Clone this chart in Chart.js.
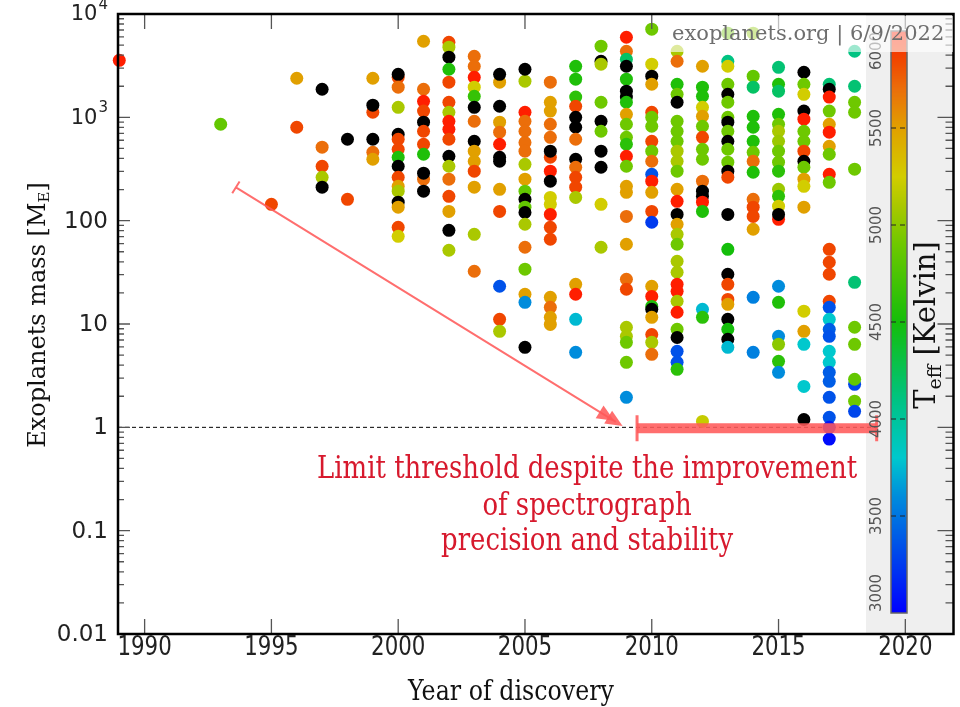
<!DOCTYPE html>
<html>
<head>
<meta charset="utf-8">
<title>Exoplanet masses by year of discovery</title>
<script src="https://cdn.jsdelivr.net/npm/chart.js@4.4.1/dist/chart.umd.min.js"></script>
<style>
  body { margin: 0; background: #fff; }
  canvas { display: block; }
</style>
</head>
<body>
<canvas id="exo-chart" width="960" height="707"></canvas>
<script>
// --- Data: one column of planets per discovery year ---
const discoveryYears = [1989, 1993, 1995, 1996, 1997, 1998, 1999, 2000, 2001, 2002, 2003, 2004, 2005,
  2006, 2007, 2008, 2009, 2010, 2011, 2012, 2013, 2014, 2015, 2016, 2017, 2018];

// planet mass in Earth masses
const massesByYear = [
  [3560],
  [857],
  [144],
  [2390, 802],
  [1870, 514, 336, 263, 211],
  [614, 161],
  [2390, 1120, 1310, 614, 459, 393],
  [2440, 2610, 1960, 1250, 686, 614, 491, 411, 336, 263, 215, 193, 151, 135, 86.3, 70.6],
  [5450, 1870, 1430, 1150, 897, 733, 549, 439, 252, 288, 193],
  [5330, 4770, 3820, 2920, 2190, 1400, 1120, 917, 767, 614, 420, 336, 252, 172, 123, 80.7, 51.7],
  [3900, 3120, 2440, 1960, 1600, 1250, 917, 587, 470, 376, 301, 211, 73.8, 32.4],
  [2190, 2610, 1280, 897, 718, 549, 411, 376, 201, 123, 23.2, 11.1, 8.5],
  [2240, 2920, 1120, 917, 733, 570, 470, 351, 252, 193, 161, 135, 120, 92.3, 55.3, 33.9, 19.4, 16.2, 5.95],
  [2190, 1400, 1150, 857, 641, 411, 470, 301, 241, 168, 144, 115, 86.3, 66.1, 18.1, 14.5, 11.6, 9.9],
  [3120, 2340, 1570, 1280, 1000, 802, 614, 393, 329, 263, 211, 168, 24.2, 19.4, 11.1, 5.32],
  [4880, 3490, 3270, 1400, 917, 733, 470, 329, 144, 55.3],
  [5960, 4360, 3650, 3120, 2340, 1790, 1570, 1400, 1070, 857, 641, 549, 420, 336, 215, 188, 110, 59.1, 27.1, 21.7, 9.3, 7.6, 6.65, 4.26, 1.95],
  [7130, 3270, 2500, 2090, 1120, 1000, 820, 587, 470, 376, 281, 241, 188, 123, 96.5, 23.2, 18.5, 14.8, 13.9, 11.6, 7.9, 6.65, 5.09],
  [4360, 3490, 2090, 1670, 1400, 917, 733, 587, 470, 376, 301, 201, 154, 115, 92.3, 73.8, 59.1, 40.5, 31.7, 24.2, 20.7, 16.6, 13.0, 8.9, 7.4, 5.44, 4.26, 3.64],
  [3120, 1960, 1600, 1250, 1025, 820, 641, 491, 393, 241, 193, 172, 151, 123, 13.9, 11.6, 1.14],
  [6520, 3490, 3120, 2090, 1670, 1400, 1000, 897, 733, 587, 491, 368, 301, 263, 115, 52.8, 30.3, 24.2, 17.3, 15.5, 11.1, 8.9, 7.1, 5.95],
  [6520, 2500, 1960, 1025, 802, 587, 459, 376, 294, 161, 135, 110, 82.6, 18.1, 5.32],
  [3050, 2090, 1790, 1070, 857, 733, 587, 470, 368, 301, 201, 172, 138, 103, 115, 23.2, 16.2, 7.6, 6.36, 4.35, 3.41],
  [2730, 2090, 1670, 1150, 960, 733, 587, 470, 376, 329, 252, 215, 135, 13.3, 8.5, 6.36, 2.49, 1.19],
  [2090, 1870, 1570, 1150, 857, 718, 525, 439, 281, 235, 52.8, 39.6, 30.3, 16.6, 14.5, 11.1, 8.9, 7.6, 5.44, 4.26, 3.41, 2.79, 1.95, 1.25, 1.0, 0.77],
  [4360, 2000, 1400, 1120, 315, 25.3, 9.3, 6.36, 2.61, 2.92, 1.79, 1.43]
];

// host star effective temperature in Kelvin (null = unknown, drawn black)
const teffByYear = [
  [6000],
  [4850],
  [5850],
  [5500, 5850],
  [null, 5700, 5850, 5100, null],
  [null, 5850],
  [5500, 5850, null, null, 5700, 5500],
  [5850, null, 5700, 5100, null, 5850, 5850, 4550, null, 5850, 5500, 5100, null, 5500, 5850, 5250],
  [5500, 5700, 6000, 5850, null, 5850, 5850, 4550, 5700, null, null],
  [5850, 5100, null, 4550, 5850, 5850, 5100, 6000, 6000, 5850, null, 5100, 5700, 5850, 5500, null, 5100],
  [5700, 5700, 6000, 5250, 4650, null, 5700, null, 5500, 5500, 5850, 5500, 5100, 5700],
  [5500, null, null, 5500, 5700, 6000, null, null, 5500, 5850, 3350, 5850, 5100],
  [5100, null, 6000, 5700, 5700, 5700, 5700, 5100, 5500, 4850, null, 4850, null, 5100, 5700, 4900, 5500, 3600, null],
  [5700, 5500, 5500, 5700, 5700, 5850, null, 6000, null, 5250, 5250, 6000, 5850, 5850, 5500, 5700, 5500, 5500],
  [4550, 4550, 4600, 5850, null, null, 5700, null, 5700, 5850, 5850, 5100, 5500, 6000, 3750, 3600],
  [4900, null, 5100, 4900, null, 4900, null, null, 5250, 5100],
  [6000, 5700, 4200, null, 4550, null, null, 4550, 5500, 4900, 4900, 4600, 6000, 4900, 5500, 5500, 5700, 5500, 5700, 5850, 5100, 5100, 4900, 4900, 3600],
  [4900, 5250, null, 5500, 5850, 4900, 4900, 5850, 4900, 5700, 3350, 6000, 5500, 5850, 3250, 5500, 6000, 4550, null, 5500, 5850, 5100, 5700],
  [5100, 5700, 4550, 4900, null, 4900, 4900, 4900, 5100, 5100, 4900, 5500, 6000, null, 5500, 5100, 4900, 5100, 5100, 6000, 6000, 5100, 6000, 4900, null, 3350, 3350, 4600],
  [5500, 4550, 4550, 5250, 5500, 4900, 5850, 4900, 4900, 5700, null, null, 6000, 4550, 3750, 4600, 5200],
  [4900, 4100, 5250, 4900, null, 4900, 4900, null, 4900, null, 4900, 4900, null, 5850, null, 4500, null, 5850, 5850, 5500, null, 4500, null, 3750],
  [5000, 4850, 4200, 4550, 4550, 4550, 4900, 5700, 4550, 5700, 5850, 5850, 5500, 3550, 3550],
  [4150, 4550, 4200, 4550, 4900, 5100, 5050, 4900, 4900, 4600, 5050, 4600, 5250, 6000, null, 3600, 4550, 3600, 5000, 4600, 3600],
  [null, 4900, 5250, null, 6000, 4900, 4900, 5850, null, 4900, 5500, 5250, 5500, 5250, 5500, 3800, 3800, null],
  [4150, null, 6000, 4900, 5500, 6000, 5500, 4900, 6000, 4900, 5850, 5850, 5850, 5850, 3350, 3800, 3400, 3350, 3800, 3800, 3400, 3400, 3350, 3350, 3100, 3050],
  [4100, 4150, 4900, 4900, 4900, 4150, 4900, 4900, 3300, 4850, 4900, 3300]
];

// axis ticks
const yearTicks = [1990, 1995, 2000, 2005, 2010, 2015, 2020];
const massDecades = [-2, -1, 0, 1, 2, 3, 4];
const teffTicks = [3000, 3500, 4000, 4500, 5000, 5500, 6000];

// annotation texts
const thresholdMass = 1;
const noteLines = ['Limit threshold despite the improvement', 'of spectrograph', 'precision and stability'];
const creditText = 'exoplanets.org | 6/9/2022';

// --- Colour map for the host star temperature ---
const cmapStops = [
  [3000, [0, 0, 255]],
  [3300, [0, 70, 235]],
  [3600, [0, 140, 220]],
  [3800, [0, 200, 205]],
  [4100, [0, 195, 130]],
  [4500, [20, 190, 10]],
  [4900, [110, 200, 0]],
  [5100, [170, 200, 0]],
  [5250, [210, 205, 0]],
  [5500, [225, 160, 0]],
  [5700, [235, 110, 10]],
  [5850, [240, 70, 0]],
  [6000, [255, 30, 0]]
];

function teffColor(t) {
  if (t === null) return 'rgb(0,0,0)';
  if (t <= cmapStops[0][0]) return 'rgb(' + cmapStops[0][1].join(',') + ')';
  for (let i = 1; i < cmapStops.length; i++) {
    const [t1, c1] = cmapStops[i];
    if (t <= t1) {
      const [t0, c0] = cmapStops[i - 1];
      const f = (t - t0) / (t1 - t0);
      const c = c0.map((v, k) => Math.round(v + (c1[k] - v) * f));
      return 'rgb(' + c.join(',') + ')';
    }
  }
  return 'rgb(' + cmapStops[cmapStops.length - 1][1].join(',') + ')';
}

// flatten the columns into chart points
const points = [];
const pointColors = [];
discoveryYears.forEach((yr, i) => {
  massesByYear[i].forEach((m, j) => {
    points.push({ x: yr, y: m });
    pointColors.push(teffColor(teffByYear[i][j]));
  });
});

// --- Layout of the colour bar panel (pixels) ---
const cbar = { panelLeft: 866, left: 891, width: 16, top: 31, bottom: 613, tMin: 3000, tMax: 6000 };
const serif = 'DejaVu Serif';
const sans = 'DejaVu Sans';

// draws the grey panel, colour bar and the threshold line under the points
const underlayPlugin = {
  id: 'underlay',
  beforeDatasetsDraw(chart) {
    const { ctx, chartArea: a, scales: { x, y } } = chart;
    ctx.save();
    ctx.fillStyle = '#efefef';
    ctx.fillRect(cbar.panelLeft, a.top, a.right - cbar.panelLeft, a.bottom - a.top);

    // colour gradient, one pixel row at a time
    for (let py = cbar.top; py < cbar.bottom; py++) {
      const t = cbar.tMax - (py + 0.5 - cbar.top) / (cbar.bottom - cbar.top) * (cbar.tMax - cbar.tMin);
      ctx.fillStyle = teffColor(t);
      ctx.fillRect(cbar.left, py, cbar.width, 1);
    }
    ctx.strokeStyle = '#666';
    ctx.lineWidth = 1.5;
    ctx.strokeRect(cbar.left, cbar.top, cbar.width, cbar.bottom - cbar.top);

    // dashed ticks across the bar
    ctx.setLineDash([5, 4]);
    ctx.strokeStyle = '#222';
    ctx.lineWidth = 1;
    teffTicks.slice(1, -1).forEach(t => {
      const py = cbar.bottom - (t - cbar.tMin) / (cbar.tMax - cbar.tMin) * (cbar.bottom - cbar.top);
      ctx.beginPath();
      ctx.moveTo(cbar.left, py);
      ctx.lineTo(cbar.left + cbar.width, py);
      ctx.stroke();
    });

    // threshold line at one Earth mass
    const py1 = y.getPixelForValue(thresholdMass);
    ctx.setLineDash([4, 3]);
    ctx.strokeStyle = '#000';
    ctx.lineWidth = 1;
    ctx.beginPath();
    ctx.moveTo(a.left, py1);
    ctx.lineTo(x.getPixelForValue(2018.87), py1);
    ctx.stroke();
    ctx.restore();
  }
};

function drawRotatedParts(ctx, cx, baseY, parts) {
  // parts: [text, fontSize, baselineShift]; centred along the rotated axis
  let total = 0;
  parts.forEach(p => { ctx.font = p[1] + 'px "' + serif + '"'; total += ctx.measureText(p[0]).width; });
  ctx.save();
  ctx.translate(cx, baseY);
  ctx.rotate(-Math.PI / 2);
  let pos = -total / 2;
  parts.forEach(p => {
    ctx.font = p[1] + 'px "' + serif + '"';
    ctx.fillText(p[0], pos, p[2]);
    pos += ctx.measureText(p[0]).width;
  });
  ctx.restore();
}

// narrow text: squeezed horizontally by sx around (cx, cy)
function drawNarrow(ctx, text, cx, cy, sx) {
  ctx.save();
  ctx.translate(cx, cy);
  ctx.scale(sx, 1);
  ctx.fillText(text, 0, 0);
  ctx.restore();
}

// arrow, bar, notes, frame, ticks and titles over the points
const overlayPlugin = {
  id: 'overlay',
  afterDatasetsDraw(chart) {
    const { ctx, chartArea: a, scales: { x, y } } = chart;
    const red = 'rgba(255, 90, 90, 0.88)';
    ctx.save();

    // arrow towards the threshold
    const x0 = x.getPixelForValue(1993.6), y0 = y.getPixelForValue(210);
    const x1 = x.getPixelForValue(2008.85), y1 = y.getPixelForValue(1.03);
    const ang = Math.atan2(y1 - y0, x1 - x0);
    ctx.strokeStyle = red;
    ctx.fillStyle = red;
    ctx.lineWidth = 2;
    ctx.beginPath();
    ctx.moveTo(x0, y0);
    ctx.lineTo(x1 - 8 * Math.cos(ang), y1 - 8 * Math.sin(ang));
    ctx.moveTo(x0 + 7 * Math.sin(ang), y0 - 7 * Math.cos(ang));
    ctx.lineTo(x0 - 7 * Math.sin(ang), y0 + 7 * Math.cos(ang));
    ctx.stroke();
    [0, 10].forEach(back => {
      const tx = x1 - back * Math.cos(ang), ty = y1 - back * Math.sin(ang);
      ctx.save();
      ctx.translate(tx, ty);
      ctx.rotate(ang);
      ctx.beginPath();
      ctx.moveTo(0, 0);
      ctx.lineTo(-17, -7.5);
      ctx.lineTo(-17, 7.5);
      ctx.closePath();
      ctx.fill();
      ctx.restore();
    });

    // bar marking the threshold since 2009
    const bx0 = x.getPixelForValue(2009.42), bx1 = x.getPixelForValue(2018.87);
    const by = y.getPixelForValue(thresholdMass) + 1;
    ctx.lineWidth = 10;
    ctx.beginPath();
    ctx.moveTo(bx0, by);
    ctx.lineTo(bx1, by);
    ctx.stroke();
    ctx.lineWidth = 3;
    ctx.beginPath();
    ctx.moveTo(bx0, by - 13); ctx.lineTo(bx0, by + 13);
    ctx.moveTo(bx1, by - 13); ctx.lineTo(bx1, by + 13);
    ctx.stroke();

    // note under the bar, in a narrow serif
    ctx.fillStyle = 'rgb(215, 25, 45)';
    ctx.font = '32px "' + serif + '"';
    ctx.textAlign = 'center';
    ctx.textBaseline = 'middle';
    const noteScale = 540 / ctx.measureText(noteLines[0]).width;
    const nx = x.getPixelForValue(2007.45);
    [0.39, 0.172, 0.078].forEach((m, i) => drawNarrow(ctx, noteLines[i], nx, y.getPixelForValue(m), noteScale));

    // tick marks on all four sides
    ctx.strokeStyle = '#555';
    ctx.lineWidth = 1.3;
    ctx.beginPath();
    massDecades.forEach(k => {
      for (let m = 1; m <= 9; m++) {
        if (k === 4 && m > 1) break;
        const py = y.getPixelForValue(m * Math.pow(10, k));
        const major = m === 1;
        ctx.moveTo(a.left, py); ctx.lineTo(a.left + (major ? 12 : 6), py);
        ctx.moveTo(a.right, py); ctx.lineTo(a.right - (major ? 16 : 8), py);
      }
    });
    yearTicks.forEach(yr => {
      const px = x.getPixelForValue(yr);
      ctx.moveTo(px, a.bottom); ctx.lineTo(px, a.bottom - 15);
      ctx.moveTo(px, a.top); ctx.lineTo(px, a.top + 15);
    });
    ctx.stroke();

    // frame
    ctx.strokeStyle = '#000';
    ctx.lineWidth = 2.5;
    ctx.strokeRect(a.left, a.top, a.right - a.left, a.bottom - a.top);

    // mass tick labels
    ctx.fillStyle = '#222';
    ctx.textAlign = 'right';
    ctx.textBaseline = 'middle';
    massDecades.forEach(k => {
      const py = y.getPixelForValue(Math.pow(10, k));
      const lx = a.left - 10;
      if (k >= 3) {
        ctx.font = '15px "' + sans + '"';
        const sup = String(k);
        ctx.fillText(sup, lx, py - 9);
        const sw = ctx.measureText(sup).width;
        ctx.font = '21px "' + sans + '"';
        ctx.fillText('10', lx - sw - 1, py + 1);
      } else {
        ctx.font = '23px "' + sans + '"';
        ctx.fillText(k >= 0 ? String(Math.pow(10, k)) : Math.pow(10, k).toFixed(-k), lx, py + 1);
      }
    });

    // year tick labels, narrow digits
    ctx.textAlign = 'center';
    ctx.textBaseline = 'alphabetic';
    ctx.font = '26px "' + sans + '"';
    yearTicks.forEach(yr => drawNarrow(ctx, String(yr), x.getPixelForValue(yr), a.bottom + 21, 0.82));

    // colour bar labels
    ctx.fillStyle = '#555';
    ctx.font = '15px "' + sans + '"';
    ctx.textBaseline = 'middle';
    teffTicks.forEach(t => {
      let py = cbar.bottom - (t - cbar.tMin) / (cbar.tMax - cbar.tMin) * (cbar.bottom - cbar.top);
      py = Math.min(Math.max(py, cbar.top + 20), cbar.bottom - 20);
      ctx.save();
      ctx.translate(877, py);
      ctx.rotate(-Math.PI / 2);
      ctx.fillText(String(t), 0, 0);
      ctx.restore();
    });

    // axis titles
    ctx.fillStyle = '#111';
    ctx.textAlign = 'center';
    ctx.textBaseline = 'alphabetic';
    ctx.font = '27px "' + serif + '"';
    drawNarrow(ctx, 'Year of discovery', 511, 700, 206 / ctx.measureText('Year of discovery').width);
    ctx.textAlign = 'left';
    drawRotatedParts(ctx, 45, 315, [['Exoplanets mass [M', 24, 0], ['E', 15, 4], [']', 24, 0]]);
    drawRotatedParts(ctx, 935, 325, [['T', 29, 0], ['eff', 19, 6], [' [Kelvin]', 29, 0]]);
    ctx.restore();
  },
  afterDraw(chart) {
    // credit box, semi-transparent over the points
    const { ctx } = chart;
    ctx.save();
    ctx.fillStyle = 'rgba(255, 255, 255, 0.62)';
    ctx.fillRect(666, 16, 287, 36);
    ctx.fillStyle = '#6e6e6e';
    ctx.font = '21px "' + serif + '"';
    ctx.textBaseline = 'alphabetic';
    ctx.fillText(creditText, 672, 40);
    ctx.restore();
  }
};

new Chart(document.getElementById('exo-chart'), {
  type: 'scatter',
  data: {
    datasets: [{
      data: points,
      pointBackgroundColor: pointColors,
      pointBorderWidth: 0,
      pointRadius: 6.5,
      pointHoverRadius: 6.5,
      clip: false
    }]
  },
  options: {
    responsive: false,
    devicePixelRatio: 1,
    animation: false,
    events: [],
    layout: { padding: { top: 14, right: 5, left: 0, bottom: 0 } },
    plugins: { legend: { display: false }, tooltip: { enabled: false } },
    scales: {
      x: {
        type: 'linear',
        min: 1988.95,
        max: 2021.9,
        grid: { display: false, drawTicks: false },
        border: { display: false },
        ticks: { display: false },
        afterFit: s => { s.height = 73; }
      },
      y: {
        type: 'logarithmic',
        min: 0.01,
        max: 10000,
        grid: { display: false, drawTicks: false },
        border: { display: false },
        ticks: { display: false },
        afterFit: s => { s.width = 118; }
      }
    }
  },
  plugins: [underlayPlugin, overlayPlugin]
});
</script>
</body>
</html>
